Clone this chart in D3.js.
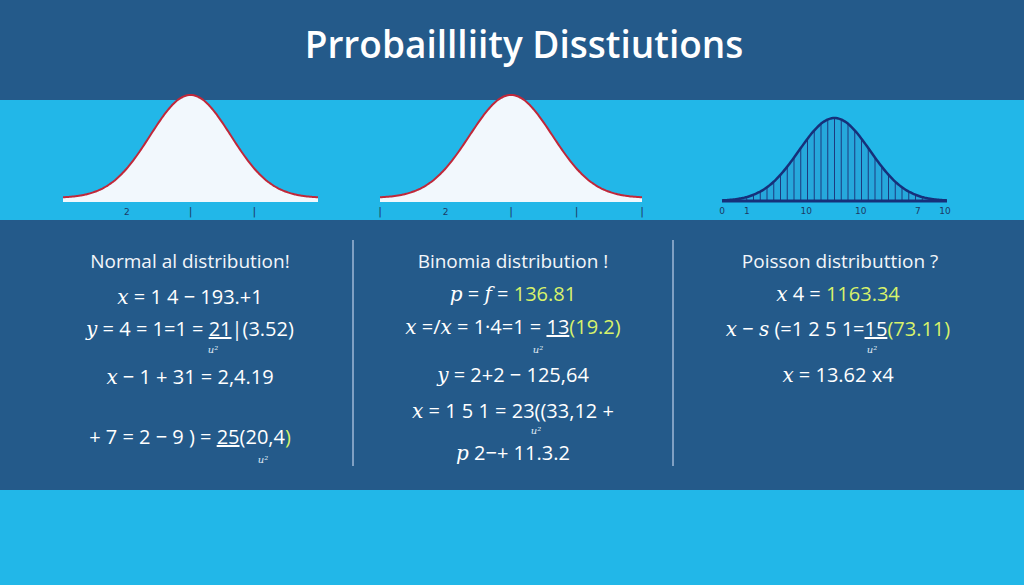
<!DOCTYPE html>
<html><head><meta charset="utf-8">
<script src="https://cdn.jsdelivr.net/npm/d3@7"></script>
<style>body{margin:0;background:#245a8a}svg{display:block}</style>
</head><body><svg id="c" width="1024" height="585"></svg>
<script>
const title = "Prrobaillliity Disstiutions";
const headings = ["Normal al distribution!", "Binomia distribution !", "Poisson distributtion ?"];
const col1 = [
  [298, [["x","v"],[" = 1 4 − 193.+1","n"]]],
  [330, [["y","v"],[" = 4 = 1=1 = ","n"],["21","u"],["|(3.52)","n"]]],
  [378, [["x","v"],[" − 1 + 31 = 2,4.19","n"]]],
  [438, [["+ 7 = 2 − 9 ) = ","n"],["25","u"],["(20,4","n"],[")","g"]]]
];
const col2 = [
  [295, [["p","v"],[" = ","n"],["f","v"],[" = ","n"],["136.81","g"]]],
  [328, [["x","v"],[" =/","n"],["x","v"],[" = 1·4=1 = ","n"],["13","u"],["(19.2)","g"]]],
  [376, [["y","v"],[" = 2+2 − 125,64","n"]]],
  [412, [["x","v"],[" = 1 5 1 = 23((33,12 +","n"]]],
  [454, [["p","v"],[" 2−+ 11.3.2","n"]]]
];
const col3 = [
  [295, [["x","v"],[" 4 = ","n"],["1163.34","g"]]],
  [330, [["x","v"],[" − ","n"],["s","v"],[" (=1 2 5 1=","n"],["15","u"],["(73.11)","g"]]],
  [376, [["x","v"],[" = 13.62 x4","n"]]]
];
const subs = [[213,353],[538,353],[872,353],[263,463],[536,434]];
const ticks1 = [["2",-2],["|",0],["|",2]];
const ticks2 = [["|",-4],["2",-2],["|",0],["|",2],["|",4]];
const ticks3 = ["0","1","10","10","7","10"];
const ticks3pos = [0,1,3.4,5.6,7.9,9];
const hatchCount = 31;

const svg = d3.select("#c");
svg.append("rect").attr("width",1024).attr("height",100).attr("fill","#245a8a");
svg.append("rect").attr("y",100).attr("width",1024).attr("height",120).attr("fill","#22b7e8");
svg.append("rect").attr("y",220).attr("width",1024).attr("height",270).attr("fill","#245a8a");
svg.append("rect").attr("y",490).attr("width",1024).attr("height",95).attr("fill","#22b7e8");
svg.append("text").attr("x",524).attr("y",58).attr("text-anchor","middle").attr("fill","#fff")
  .attr("font-family","Open Sans").attr("font-weight",600).attr("font-size",37).text(title);

const pdf = x => Math.exp(-x*x/3.2);
const grid = d3.range(-4,4.001,0.05);
function bell(x0,x1,top,base){
  const x = d3.scaleLinear().domain([-4,4]).range([x0,x1]);
  const y = d3.scaleLinear().domain([0,1]).range([base,top]);
  const area = d3.area().x(d=>x(d)).y0(base).y1(d=>y(pdf(d))).curve(d3.curveBasis);
  const line = d3.line().x(d=>x(d)).y(d=>y(pdf(d))).curve(d3.curveBasis);
  return {x,y,area,line};
}
[[63,318,ticks1],[380,642,ticks2]].forEach(([a,b,tk])=>{
  const s = bell(a,b,95,198);
  svg.append("rect").attr("x",a).attr("y",197).attr("width",b-a).attr("height",5).attr("fill","#f2f8fd");
  svg.append("path").attr("d",s.area(grid)).attr("fill","#f2f8fd");
  svg.append("path").attr("d",s.line(grid)).attr("fill","none").attr("stroke","#c0283a").attr("stroke-width",2);
  tk.forEach(([t,v])=>svg.append("text").attr("x",s.x(v)).attr("y",215).attr("text-anchor","middle")
    .attr("font-size",t=="|"?11:9).attr("font-family","DejaVu Sans").attr("fill","#1d3b66").text(t));
});
{
  const s = bell(722,947,118,201);
  svg.append("path").attr("d",s.area(grid)).attr("fill","#26a8dc");
  d3.range(hatchCount).forEach(i=>{
    const v = -3.6 + i*7.2/(hatchCount-1);
    svg.append("line").attr("x1",s.x(v)).attr("x2",s.x(v)).attr("y1",201).attr("y2",s.y(pdf(v)))
      .attr("stroke","#1c3a80").attr("stroke-width",1);
  });
  svg.append("path").attr("d",s.line(grid)).attr("fill","none").attr("stroke","#16307a").attr("stroke-width",2.5);
  svg.append("line").attr("x1",722).attr("x2",947).attr("y1",201).attr("y2",201).attr("stroke","#16307a").attr("stroke-width",3);
  const tx = d3.scaleLinear().domain([0,9]).range([722,945]);
  ticks3.forEach((t,i)=>svg.append("text").attr("x",tx(ticks3pos[i])).attr("y",214).attr("text-anchor","middle")
    .attr("font-size",9).attr("font-family","DejaVu Sans").attr("fill","#1d3b66").text(t));
}
[353,673].forEach(x=>svg.append("line").attr("x1",x).attr("x2",x).attr("y1",240).attr("y2",466).attr("stroke","#9fb9d6").attr("stroke-width",1.5));
[190,513,840].forEach((cx,i)=>svg.append("text").attr("x",cx).attr("y",268).attr("text-anchor","middle")
  .attr("fill","#f3f6fa").attr("font-family","Open Sans").attr("font-size",19).text(headings[i]));
[[190,col1],[513,col2],[838,col3]].forEach(([cx,lines])=>{
  lines.forEach(([y,parts])=>{
    const t = svg.append("text").attr("x",cx).attr("y",y+6).attr("text-anchor","middle").attr("font-size",20)
      .attr("font-family","Open Sans").attr("fill","#fff");
    parts.forEach(([s,k])=>{
      const sp = t.append("tspan").text(s);
      if(k=="v") sp.attr("font-family","DejaVu Serif").attr("font-style","italic");
      if(k=="g") sp.attr("fill","#d8f26a");
      if(k=="u") sp.attr("text-decoration","underline");
    });
  });
});
subs.forEach(([x,y])=>svg.append("text").attr("x",x).attr("y",y).attr("text-anchor","middle")
  .attr("font-family","DejaVu Serif").attr("font-style","italic").attr("font-size",10).attr("fill","#dfe8f2").text("u²"));
</script></body></html>
